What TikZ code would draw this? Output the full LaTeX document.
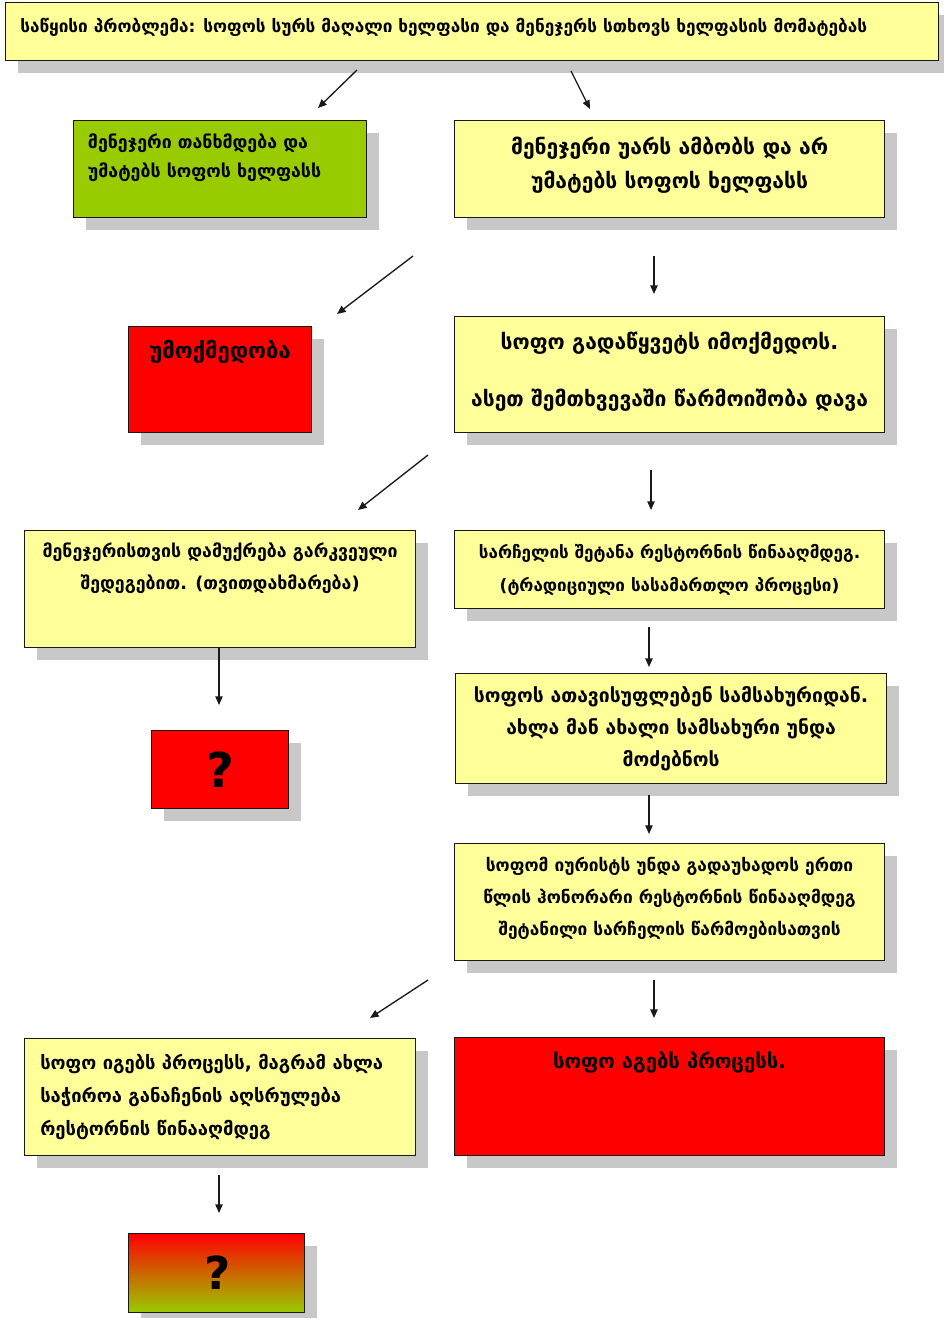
\documentclass[tikz,border=0pt]{standalone}
\usepackage{fontspec}
\setmainfont{DejaVu Sans}
\usetikzlibrary{arrows.meta,positioning,shadows,calc}
\definecolor{cYel}   {RGB}{255,255,153}
\definecolor{cGreen} {RGB}{153,204,0}
\definecolor{cRed}   {RGB}{255,0,0}
\definecolor{cOrange}{RGB}{225,128,0}
\definecolor{cShadow}{RGB}{200,200,200}
\definecolor{cLine}  {RGB}{25,25,25}
\tikzset{
  >={Triangle[length=6.5pt,width=5.5pt]},
  box/.style={draw=cLine,line width=0.9pt,anchor=north west,inner sep=0pt,fill=cYel,
              drop shadow={shadow xshift=9.5pt,shadow yshift=-9.5pt,fill=cShadow,opacity=1}},
  greenbox/.style={box,fill=cGreen},
  redbox/.style={box,fill=cRed},
  gradbox/.style={box,top color=cRed,middle color=cOrange,bottom color=cGreen},
  txt/.style args={#1/#2}{inner sep=0pt,align=center,font=\bfseries\fontsize{#1}{#2}\selectfont},
  flow/.style={->,line width=1pt,cLine},
}
\begin{document}
\begin{tikzpicture}[x=0.75pt,y=-0.75pt]
  \useasboundingbox (0,0) rectangle (944,1318);
  % boxes, placed at their top left corners (pixels of the reference)
  \node[box,minimum width=699.75pt,minimum height=43.5pt] (start) at (5,2) {};
  \node[greenbox,minimum width=219.75pt,minimum height=72.75pt] (agree) at (73,120) {};
  \node[box,minimum width=322.5pt,minimum height=72.75pt] (refuse) at (454,120) {};
  \node[redbox,minimum width=137.25pt,minimum height=79.5pt] (inact) at (128,326) {};
  \node[box,minimum width=322.5pt,minimum height=87pt] (act) at (454,316) {};
  \node[box,minimum width=293.25pt,minimum height=87.75pt] (threat) at (24,530) {};
  \node[box,minimum width=322.5pt,minimum height=58.5pt] (suit) at (454,530) {};
  \node[box,minimum width=323.25pt,minimum height=82.5pt] (fired) at (455,673) {};
  \node[redbox,minimum width=102.75pt,minimum height=58.5pt] (qthreat) at (151,730) {};
  \node[box,minimum width=322.5pt,minimum height=87.75pt] (fee) at (454,843) {};
  \node[box,minimum width=293.25pt,minimum height=87.75pt] (win) at (24,1038) {};
  \node[redbox,minimum width=322.5pt,minimum height=88.5pt] (lose) at (454,1037) {};
  \node[gradbox,minimum width=132pt,minimum height=59.25pt] (qwin) at (128,1233) {};
  % texts
  \node[txt=12.9/24,anchor=west] (tstart) at ([xshift=11.25pt,yshift=3pt]start.west)
    {საწყისი პრობლემა:  სოფოს სურს მაღალი ხელფასი და  მენეჯერს სთხოვს ხელფასის მომატებას};
  \node[txt=13.3/21.75,anchor=north west,align=left] (tagree) at ([xshift=11pt,yshift=-10pt]agree.north west)
    {მენეჯერი თანხმდება და\\უმატებს სოფოს ხელფასს};
  \node[txt=15.8/26] (trefuse) at ([yshift=3pt]refuse.center)
    {მენეჯერი უარს ამბობს და არ\\უმატებს სოფოს ხელფასს};
  \node[txt=16.5/24] (tinact) at ([yshift=-19.5pt]inact.north) {უმოქმედობა};
  \node[txt=15.8/26] (tact) at ([yshift=2pt]act.center)
    {სოფო გადაწყვეტს იმოქმედოს.\\[17pt]ასეთ შემთხვევაში წარმოიშობა დავა};
  \node[txt=13.3/24] (tthreat) at ([yshift=-29pt]threat.north)
    {მენეჯერისთვის დამუქრება გარკვეული\\შედეგებით. (თვითდახმარება)};
  \node[txt=12.8/24.75] (tsuit) at (suit.center)
    {სარჩელის შეტანა რესტორნის წინააღმდეგ.\\(ტრადიციული სასამართლო პროცესი)};
  \node[txt=14.5/24] (tfired) at (fired.center)
    {სოფოს ათავისუფლებენ სამსახურიდან.\\ახლა მან ახალი სამსახური უნდა\\მოძებნოს};
  \node[txt=36/36] (tqthreat) at (qthreat.center) {?};
  \node[txt=13/24] (tfee) at ([yshift=3pt]fee.center)
    {სოფომ იურისტს უნდა გადაუხადოს ერთი\\წლის ჰონორარი რესტორნის წინააღმდეგ\\შეტანილი სარჩელის წარმოებისათვის};
  \node[txt=13.8/25,anchor=west,align=left] (twin) at ([xshift=12pt]win.west)
    {სოფო იგებს პროცესს, მაგრამ ახლა\\საჭიროა განაჩენის აღსრულება\\რესტორნის წინააღმდეგ};
  \node[txt=15.2/24] (tlose) at ([yshift=-18.75pt]lose.north) {სოფო აგებს პროცესს.};
  \node[txt=34/34] (tqwin) at ([xshift=0.75pt]qwin.center) {?};
  % free standing arrows between the boxes
  \foreach \n/\xa/\ya/\xb/\yb in {1/357/70/318/108, 2/571/71/590/109, 3/413/256/337/314,
      4/654/256/654/294, 5/428/455/358/510, 6/651/470/651/510, 7/219/647/219/705,
      8/649/627/649/667, 9/649/795/649/834, 10/428/980/370/1018, 11/654/980/654/1018,
      12/219/1175/219/1213}
  {
    \coordinate (s\n) at (\xa,\ya);
    \coordinate (e\n) at (\xb,\yb);
    \draw[flow] (s\n) -- (e\n);
  }
\end{tikzpicture}
\end{document}
